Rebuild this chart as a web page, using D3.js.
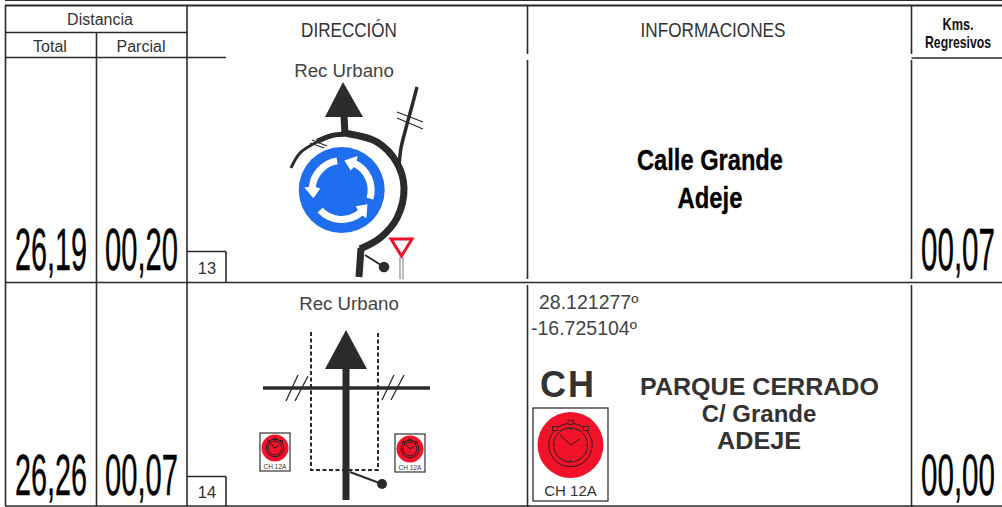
<!DOCTYPE html>
<html>
<head>
<meta charset="utf-8">
<script src="https://cdn.jsdelivr.net/npm/d3@7"></script>
<style>
  html, body { margin: 0; padding: 0; background: #fff; }
  svg { display: block; }
  text { font-family: "Liberation Sans", Arial, sans-serif; fill: #333; }
</style>
</head>
<body>
<div id="chart"></div>
<script>
let headers = ["DIRECCIÓN", "INFORMACIONES"];
let totals = ["26,19", "26,26"];
let parciales = ["00,20", "00,07"];
let regresivos = ["00,07", "00,00"];
let casillas = ["13", "14"];
let direcciones = ["Rec Urbano", "Rec Urbano"];
let coordenadas = ["28.121277º", "-16.725104º"];
let calle = ["Calle Grande", "Adeje"];
let parque = ["PARQUE CERRADO", "C/ Grande", "ADEJE"];
let control = "CH";
let controlName = "CH 12A";

let params = {
  width: 1002, height: 507,
  ink: "#2b2b2b",
  red: "#f3122a"
};

let svg = d3.select("#chart").append("svg")
  .attr("width", params.width)
  .attr("height", params.height);

let lineGen = d3.line();
let curveGen = d3.line().curve(d3.curveCatmullRom.alpha(0.5));

function rule(x1, y1, x2, y2, w) {
  svg.append("line")
    .attr("x1", x1).attr("y1", y1).attr("x2", x2).attr("y2", y2)
    .attr("stroke", params.ink)
    .attr("stroke-width", w || 1.6);
}

function label(parent, txt, x, y, size, opts) {
  opts = opts || {};
  let t = parent.append("text")
    .text(txt)
    .attr("font-size", size)
    .attr("text-anchor", opts.anchor || "middle")
    .attr("font-weight", opts.bold ? "bold" : "normal");
  if (opts.fit) {
    // condensed lettering: squeeze the text to the width
    let w = t.node().getComputedTextLength();
    t.attr("transform", "translate(" + x + "," + y + ") scale(" + (opts.fit / w) + ",1)");
  } else {
    t.attr("x", x).attr("y", y);
  }
  if (opts.fill) t.style("fill", opts.fill);
  if (opts.heavy) t.style("stroke", opts.fill || "#000").style("stroke-width", opts.heavy);
  return t;
}

function stroke(parent, gen, pts, w, color) {
  return parent.append("path")
    .attr("d", gen(pts))
    .attr("fill", "none")
    .attr("stroke", color || params.ink)
    .attr("stroke-width", w);
}

function solid(parent, pts, color) {
  return parent.append("path")
    .attr("d", lineGen(pts) + "Z")
    .attr("fill", color || params.ink);
}

// table frame
rule(5, 0.5, 1002, 0.5, 1);
rule(5, 5.5, 1002, 5.5, 2);
rule(5.5, 5, 5.5, 506);
rule(96.5, 32, 96.5, 506);
rule(187, 5, 187, 506);
rule(5, 32.5, 187, 32.5);
rule(5, 57.5, 226, 57.5);
rule(911.5, 58, 1002, 58);
rule(5, 282.5, 1002, 282.5);
[[5, 54], [60, 279], [285, 507]].forEach(d => {
  rule(527.5, d[0], 527.5, d[1]);
  rule(911.5, d[0], 911.5, d[1]);
});
rule(5, 506, 1002, 506, 1.6);

// header text
label(svg, "Distancia", 100, 25, 16);
label(svg, "Total", 50, 52, 16);
label(svg, "Parcial", 141, 52, 16);
label(svg, headers[0], 349, 37, 19.5, {fit: 96});
label(svg, headers[1], 713, 37, 19.5, {fit: 145});
label(svg, "Kms.", 958, 30, 16, {bold: true, fit: 31, fill: "#111"});
label(svg, "Regresivos", 958, 48, 16.5, {bold: true, fit: 66, fill: "#111"});

// big numbers and step boxes, second row a bit smaller to stay inside the page
[[270, 60], [494.8, 57]].forEach((d, i) => {
  label(svg, totals[i], 51, d[0], d[1], {fit: 72, fill: "#000", heavy: 0.45});
  label(svg, parciales[i], 141.5, d[0], d[1], {fit: 73, fill: "#000", heavy: 0.45});
  label(svg, regresivos[i], 958, d[0], d[1], {fit: 74, fill: "#000", heavy: 0.45});
});
[[251.5, 282], [476.5, 506]].forEach((d, i) => {
  rule(187, d[0], 226, d[0]);
  rule(226, d[0], 226, d[1]);
  label(svg, casillas[i], 207, d[1] - 8.5, 16.5);
});

// direction texts
label(svg, direcciones[0], 344, 77, 18.7, {fill: "#444"});
label(svg, direcciones[1], 349, 310, 18.7, {fill: "#444"});

// first note: roundabout
function roundabout(g) {
  let cx = 341.7, cy = 190, r = 43;
  g.append("circle").attr("cx", cx).attr("cy", cy).attr("r", r).attr("fill", "#1f6ef0");

  let polar = (a, rad) => [cx + rad * Math.sin(a), cy - rad * Math.cos(a)];
  let deg = d => d * Math.PI / 180;

  // white arrows run counter clockwise: tail, neck and tip bearings
  [[107, 25, 5], [-9, -86, -106], [227, 139, 119]].forEach(d => {
    g.append("path")
      .attr("d", d3.arc()({innerRadius: 26, outerRadius: 33, startAngle: deg(d[1]), endAngle: deg(d[0])}))
      .attr("transform", "translate(" + cx + "," + cy + ")")
      .attr("fill", "#fff");
    solid(g, [polar(deg(d[1]), 21.5), polar(deg(d[2]), 29.5), polar(deg(d[1]), 37.5), polar(deg(d[1] + 4), 29.5)], "#fff");
  });

  stroke(g, curveGen, [[291, 168], [300, 153], [317, 142], [332, 136]], 3);
  stroke(g, curveGen, [[317, 141.5], [332, 135.5], [350, 134]], 5);
  stroke(g, curveGen, [[347, 133.5], [377, 142], [397, 163], [404, 188], [397, 218], [380, 238], [360, 249]], 7);
  stroke(g, lineGen, [[361, 248], [359, 277]], 7);
  stroke(g, lineGen, [[345, 135], [344, 116]], 7);
  solid(g, [[343, 82], [325, 117], [363, 117]]);
  stroke(g, curveGen, [[417, 87], [412, 106], [406, 128], [401, 148], [399, 166]], 3.5);
  stroke(g, lineGen, [[397, 112], [423, 122]], 1.3);
  stroke(g, lineGen, [[397, 118], [423, 129]], 1.3);
  stroke(g, lineGen, [[312, 140], [327, 146]], 1.2);
  stroke(g, lineGen, [[310, 143], [324, 148]], 1.2);

  // stop marker
  stroke(g, lineGen, [[365, 255], [384, 267]], 2);
  g.append("circle").attr("cx", 384).attr("cy", 267).attr("r", 5.3).attr("fill", params.ink);

  // yield sign
  stroke(g, lineGen, [[400, 257], [400, 279]], 1, "#777");
  stroke(g, lineGen, [[403, 257], [403, 279]], 1, "#777");
  g.append("path")
    .attr("d", lineGen([[391, 239], [412, 239], [401.5, 256]]) + "Z")
    .attr("fill", "#fff")
    .attr("stroke", params.red)
    .attr("stroke-width", 3);
}
roundabout(svg.append("g"));

// second note: crossroad with control zone
function stopwatch(g, cx, cy, r, big) {
  let k = r / 33;
  g.append("circle").attr("cx", cx).attr("cy", cy).attr("r", r).attr("fill", params.red);
  [21.7, 17].forEach(rad => {
    g.append("circle").attr("cx", cx).attr("cy", cy).attr("r", rad * k)
      .attr("fill", "none").attr("stroke", "#222").attr("stroke-width", 1);
  });
  [[0, -22.5], [-15.5, -16.5], [15.5, -16.5]].forEach(d => {
    g.append("rect")
      .attr("x", cx + (d[0] - 2.5) * k).attr("y", cy + (d[1] - 2) * k)
      .attr("width", 5 * k).attr("height", 4 * k)
      .attr("fill", params.red).attr("stroke", "#222").attr("stroke-width", 0.8);
  });
  if (big) {
    [[0, -1], [1, 0], [0, 1], [-1, 0]].forEach(d => {
      stroke(g, lineGen, [[cx + d[0] * 15, cy + d[1] * 15], [cx + d[0] * 17, cy + d[1] * 17]], 1, "#222");
    });
  }
  stroke(g, lineGen, [[cx - 10.5 * k, cy - 10 * k], [cx, cy], [cx + 9.5 * k, cy - 6 * k]], 1, "#222");
}

function stamp(g, x, y, w, h, r, size, big) {
  let cx = x + w / 2;
  g.append("rect").attr("x", x).attr("y", y).attr("width", w).attr("height", h)
    .attr("fill", "#fff").attr("stroke", "#333").attr("stroke-width", big ? 1.3 : 1.2);
  stopwatch(g, cx, y + r + (big ? 4 : 1.5), r, big);
  label(g, controlName, cx, y + h - (big ? 5.5 : 2), size);
}

function crossroad(g) {
  stroke(g, lineGen, [[311, 332], [311, 470], [378, 470], [378, 332]], 2).attr("stroke-dasharray", "4,2.5");
  stroke(g, lineGen, [[263, 388], [430, 388]], 3.5);
  [[286, 401, 298, 375], [295, 401, 308, 376], [382, 400, 394, 375], [391, 400, 404, 375]].forEach(d => {
    stroke(g, lineGen, [[d[0], d[1]], [d[2], d[3]]], 1.3);
  });
  stroke(g, lineGen, [[346, 365], [346, 500]], 7);
  solid(g, [[346, 330], [325, 369], [367, 369]]);
  stroke(g, lineGen, [[350, 472], [382, 484]], 2);
  g.append("circle").attr("cx", 382).attr("cy", 484).attr("r", 5).attr("fill", params.ink);
  stamp(g, 260, 433, 30, 38, 13.5, 6.5, false);
  stamp(g, 395, 434, 30, 38, 13.5, 6.5, false);
}
crossroad(svg.append("g"));

// information column
label(svg, calle[0], 710, 170, 29, {bold: true, fit: 146, fill: "#000", heavy: 0.3});
label(svg, calle[1], 710, 208, 29, {bold: true, fit: 65, fill: "#000", heavy: 0.3});
label(svg, coordenadas[0], 539, 309, 19.5, {anchor: "start", fill: "#444"});
label(svg, coordenadas[1], 531, 334.5, 19.5, {anchor: "start", fill: "#444"});
label(svg, control, 568, 397, 36, {bold: true}).attr("letter-spacing", 2);
label(svg, parque[0], 759.5, 395, 24, {bold: true, fit: 239});
label(svg, parque[1], 759, 422, 24, {bold: true});
label(svg, parque[2], 759, 449, 24, {bold: true, fit: 84});
stamp(svg.append("g"), 533, 408, 75, 93, 33, 15, true);
</script>
</body>
</html>
